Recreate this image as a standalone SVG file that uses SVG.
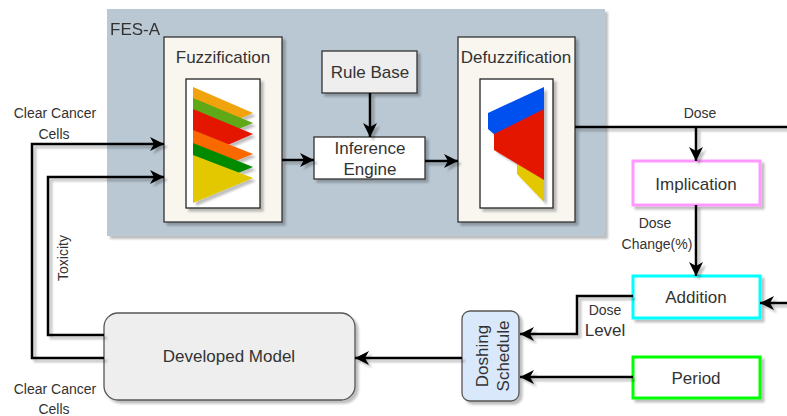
<svg xmlns="http://www.w3.org/2000/svg" width="787" height="416" viewBox="0 0 787 416">
<defs>
<filter id="sh" x="-10%" y="-10%" width="130%" height="130%">
<feDropShadow dx="3" dy="3" stdDeviation="0.8" flood-color="#000" flood-opacity="0.25"/>
</filter>
<marker id="ah" markerUnits="userSpaceOnUse" markerWidth="16" markerHeight="14" refX="14" refY="7" orient="auto">
<path d="M0,0 L14,7 L0,14 L4,7 Z" fill="#000"/>
</marker>
<style>
text{font-family:"Liberation Sans",Arial,sans-serif;fill:#333}
.t17{font-size:17px;text-anchor:middle}
.t14{font-size:14px;text-anchor:middle}
.box{stroke:#333;stroke-width:1.3}
.ln{fill:none;stroke:#000;stroke-width:2.5}
.arr{fill:none;stroke:#000;stroke-width:2.5;marker-end:url(#ah)}
</style>
</defs>
<rect width="787" height="416" fill="#fff"/>

<g id="fes-a" filter="url(#sh)">
<rect x="107" y="9" width="498" height="227" fill="#bac8d3"/>
<text x="110" y="35" style="font-size:17px">FES-A</text>
</g>

<g id="fuzzification">
<rect class="box" x="164" y="37" width="118" height="185" fill="#f8f6ef" filter="url(#sh)"/>
<text class="t17" x="223" y="63">Fuzzification</text>
<rect x="186" y="79" width="74" height="129" fill="#fff" stroke="#222" stroke-width="1.3" filter="url(#sh)"/>
<g filter="url(#sh)">
<polygon points="193,87 253,113 193,139" fill="#f0a30a"/>
<polygon points="193,98 253,123 193,148" fill="#60a917"/>
<polygon points="193,109 253,134 193,160" fill="#e51400"/>
<polygon points="193,130 253,154 193,178" fill="#fa6800"/>
<polygon points="193,143 253,167 193,191" fill="#008a00"/>
<polygon points="193,155 253,178 193,203" fill="#e3c800"/>
</g>
</g>

<g id="rule-base">
<rect class="box" x="322" y="51" width="95" height="42" fill="#eeeeee" filter="url(#sh)"/>
<text class="t17" x="370" y="78">Rule Base</text>
</g>

<g id="inference-engine">
<rect class="box" x="314" y="137" width="111" height="42" fill="#fff" filter="url(#sh)"/>
<text class="t17" x="370" y="154">Inference</text>
<text class="t17" x="370" y="175">Engine</text>
</g>

<g id="defuzzification">
<rect class="box" x="458" y="37" width="117" height="185" fill="#f8f6ef" filter="url(#sh)"/>
<text class="t17" x="516" y="63">Defuzzification</text>
<rect x="480" y="79" width="73" height="129" fill="#fff" stroke="#222" stroke-width="1.3" filter="url(#sh)"/>
<g filter="url(#sh)">
<polygon points="517,163 544,178 544,202 517,174" fill="#e3c800"/>
<polygon points="494,133 544,108 544,180 494,150" fill="#e51400"/>
<polygon points="488,113 544,87 544,109 494,134 488,129" fill="#0050ef"/>
</g>
</g>

<g id="implication">
<rect x="633" y="161" width="127" height="44" fill="#fff" stroke="#ff99ff" stroke-width="3" filter="url(#sh)"/>
<text class="t17" x="696" y="190">Implication</text>
</g>

<g id="addition">
<rect x="633" y="276" width="127" height="42" fill="#fff" stroke="#00ffff" stroke-width="3" filter="url(#sh)"/>
<text class="t17" x="696" y="303">Addition</text>
</g>

<g id="period">
<rect x="633" y="357" width="127" height="41" fill="#fff" stroke="#00ff00" stroke-width="3" filter="url(#sh)"/>
<text class="t17" x="696" y="384">Period</text>
</g>

<g id="doshing-schedule">
<rect x="462" y="311" width="57" height="90" rx="8" fill="#dae8fc" stroke="#555" stroke-width="1.3" filter="url(#sh)"/>
<text class="t17" transform="translate(488,356) rotate(-90)">Doshing</text>
<text class="t17" transform="translate(509,356) rotate(-90)">Schedule</text>
</g>

<g id="developed-model">
<rect x="104" y="313" width="251" height="87" rx="14" fill="#eeeeee" stroke="#555" stroke-width="1.3" filter="url(#sh)"/>
<text class="t17" x="229" y="362">Developed Model</text>
</g>

<g id="connectors" filter="url(#sh)">
<path class="arr" d="M104,358 L32,358 L32,144 L164,144"/>
<path class="arr" d="M104,335 L48,335 L48,177 L164,177"/>
<path class="arr" d="M282,160 L314,160"/>
<path class="arr" d="M370,93 L370,137"/>
<path class="arr" d="M425,161 L458,161"/>
<path class="ln" d="M575,127 L787,127"/>
<path class="arr" d="M696,127 L696,161"/>
<path class="arr" d="M696,205 L696,276"/>
<path class="arr" d="M787,303 L760,303"/>
<path class="arr" d="M633,296 L577,296 L577,334 L520,334"/>
<path class="arr" d="M633,377 L520,377"/>
<path class="arr" d="M462,358 L355,358"/>
</g>

<g id="labels">
<text class="t14" x="55" y="118">Clear Cancer</text>
<text class="t14" x="54" y="139">Cells</text>
<text class="t14" x="55" y="394">Clear Cancer</text>
<text class="t14" x="54" y="414">Cells</text>
<text class="t14" transform="translate(68,258) rotate(-90)">Toxicity</text>
<text class="t14" x="700" y="118">Dose</text>
<text class="t14" x="655" y="228">Dose</text>
<text class="t14" x="657" y="249">Change(%)</text>
<text class="t14" x="605" y="315">Dose</text>
<text class="t17" x="605" y="336">Level</text>
</g>
</svg>
